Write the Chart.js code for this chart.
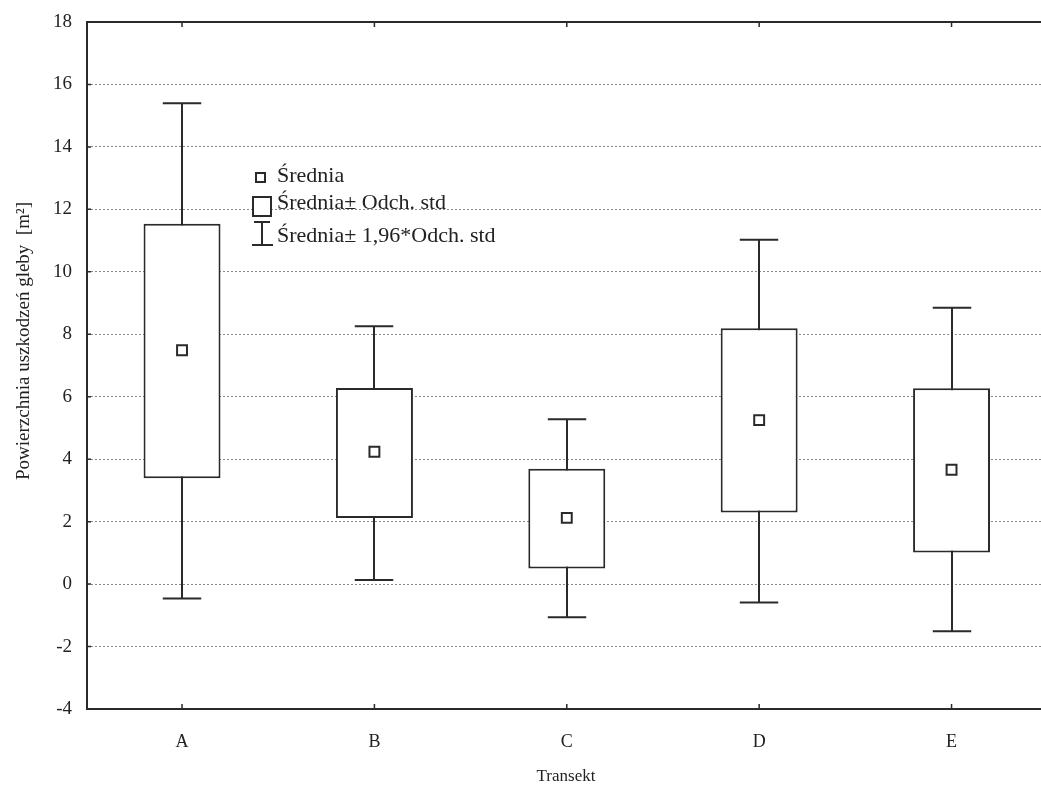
<!DOCTYPE html>
<html>
<head>
<meta charset="utf-8">
<script src="https://cdn.jsdelivr.net/npm/chart.js@4/dist/chart.umd.min.js"></script>
<style>
  html, body { margin: 0; padding: 0; background: #fff; overflow: hidden; }
  #wrap { width: 1041px; height: 789px; }
</style>
</head>
<body>
<div id="wrap"><canvas id="c" width="1041" height="789"></canvas></div>
<script>
// ---- data ----
const categories = ['A', 'B', 'C', 'D', 'E'];
const means      = [7.49, 4.24, 2.12, 5.25, 3.66];
const sdLow      = [3.39, 2.12, 0.50, 2.29, 1.01];
const sdHigh     = [11.54, 6.28, 3.69, 8.19, 6.27];
const ciLow      = [-0.46, 0.13, -1.06, -0.59, -1.51];
const ciHigh     = [15.40, 8.26, 5.28, 11.03, 8.85];
const yTicks     = [-4, -2, 0, 2, 4, 6, 8, 10, 12, 14, 16, 18];
const xTitle = 'Transekt';
const yTitle = 'Powierzchnia uszkodzeń gleby  [m²]';
const legendLabels = ['Średnia', 'Średnia± Odch. std', 'Średnia± 1,96*Odch. std'];

const FONT = "'Liberation Serif', 'DejaVu Serif', serif";
const INK = '#2a2a2a';

const boxData = categories.map((c, i) => ({ x: i, y: [sdLow[i], sdHigh[i]] }));
const meanData = categories.map((c, i) => ({ x: i, y: means[i] }));

const decorPlugin = {
  id: 'decor',
  beforeDatasetsDraw(chart) {
    const { ctx, scales: { x, y } } = chart;
    ctx.save();
    ctx.strokeStyle = INK;
    ctx.lineWidth = 2;
    const capHalf = (x.getPixelForValue(1) - x.getPixelForValue(0)) * 0.1;
    categories.forEach((c, i) => {
      const px = Math.round(x.getPixelForValue(i));
      const yTop = y.getPixelForValue(ciHigh[i]);
      const yBot = y.getPixelForValue(ciLow[i]);
      ctx.beginPath();
      ctx.moveTo(px, yTop); ctx.lineTo(px, yBot);
      ctx.moveTo(px - capHalf, yTop); ctx.lineTo(px + capHalf, yTop);
      ctx.moveTo(px - capHalf, yBot); ctx.lineTo(px + capHalf, yBot);
      ctx.stroke();
    });
    ctx.restore();
  },
  afterDraw(chart) {
    const { ctx, chartArea: a, scales: { x, y } } = chart;
    ctx.save();
    ctx.strokeStyle = INK;
    ctx.lineWidth = 2;
    ctx.beginPath();
    ctx.moveTo(chart.width, a.top); ctx.lineTo(a.left, a.top);
    ctx.lineTo(a.left, a.bottom); ctx.lineTo(chart.width, a.bottom);
    ctx.stroke();
    ctx.lineWidth = 1.5;
    ctx.beginPath();
    yTicks.forEach(v => {
      const py = y.getPixelForValue(v);
      ctx.moveTo(a.left, py); ctx.lineTo(a.left + 4, py);
    });
    categories.forEach((c, i) => {
      const px = x.getPixelForValue(i);
      ctx.moveTo(px, a.bottom); ctx.lineTo(px, a.bottom - 5);
      ctx.moveTo(px, a.top); ctx.lineTo(px, a.top + 5);
    });
    ctx.stroke();

    ctx.fillStyle = '#222';
    ctx.font = '17px ' + FONT;
    ctx.textAlign = 'center';
    ctx.textBaseline = 'middle';
    ctx.fillText(xTitle, 566, 777);
    ctx.save();
    ctx.font = '19px ' + FONT;
    ctx.translate(24, 341);
    ctx.rotate(-Math.PI / 2);
    ctx.fillText(yTitle, 0, 0);
    ctx.restore();

    ctx.font = '22px ' + FONT;
    ctx.textAlign = 'left';
    ctx.textBaseline = 'middle';
    ctx.strokeStyle = INK;
    ctx.lineWidth = 2;
    ctx.fillStyle = '#fff';
    ctx.fillRect(256, 173, 9, 9);
    ctx.strokeRect(256, 173, 9, 9);
    ctx.fillRect(253, 197, 18, 19);
    ctx.strokeRect(253, 197, 18, 19);
    ctx.beginPath();
    ctx.moveTo(262, 222); ctx.lineTo(262, 245);
    ctx.moveTo(254, 222); ctx.lineTo(270, 222);
    ctx.moveTo(252, 245); ctx.lineTo(273, 245);
    ctx.stroke();
    ctx.fillStyle = '#222';
    ctx.fillText(legendLabels[0], 277, 176);
    ctx.fillText(legendLabels[1], 277, 203);
    ctx.fillText(legendLabels[2], 277, 236);
    ctx.restore();
  }
};

new Chart(document.getElementById('c'), {
  data: {
    datasets: [
      {
        type: 'bar',
        label: legendLabels[1],
        data: boxData,
        backgroundColor: '#ffffff',
        borderColor: INK,
        borderWidth: 2,
        borderSkipped: false,
        barPercentage: 0.4,
        categoryPercentage: 1,
        order: 2
      },
      {
        type: 'scatter',
        label: legendLabels[0],
        data: meanData,
        pointStyle: 'rect',
        radius: 7,
        hoverRadius: 7,
        backgroundColor: '#ffffff',
        borderColor: INK,
        borderWidth: 2,
        order: 1
      }
    ]
  },
  options: {
    responsive: false,
    animation: false,
    events: [],
    layout: { autoPadding: false, padding: { top: 22, right: 0, bottom: 0, left: 0 } },
    plugins: { legend: { display: false }, tooltip: { enabled: false } },
    scales: {
      x: {
        type: 'linear',
        offset: false,
        min: -0.494,
        max: 4.465,
        afterFit(s) { s.height = 80; s.paddingLeft = 0; s.paddingRight = 0; },
        afterBuildTicks(s) { s.ticks = categories.map((c, i) => ({ value: i })); },
        grid: { display: true, drawOnChartArea: false, drawTicks: true, tickLength: 19, color: 'rgba(0,0,0,0)', tickColor: 'rgba(0,0,0,0)' },
        border: { display: false },
        ticks: {
          padding: 3,
          color: '#222',
          font: { family: FONT, size: 18 },
          callback: (v) => categories[v] ?? ''
        }
      },
      y: {
        type: 'linear',
        min: -4,
        max: 18,
        afterFit(s) { s.width = 87; s.paddingTop = 0; s.paddingBottom = 0; },
        afterBuildTicks(s) { s.ticks = yTicks.map(v => ({ value: v })); },
        grid: {
          drawTicks: false,
          lineWidth: 1,
          color: (ctx) => (ctx.tick && (ctx.tick.value === 18 || ctx.tick.value === -4)) ? 'rgba(0,0,0,0)' : '#8a8a8a'
        },
        border: { display: false, dash: [2, 2] },
        ticks: {
          padding: 15,
          color: '#222',
          font: { family: FONT, size: 19 },
          callback: (v) => String(v)
        }
      }
    }
  },
  plugins: [decorPlugin]
});
</script>
</body>
</html>
